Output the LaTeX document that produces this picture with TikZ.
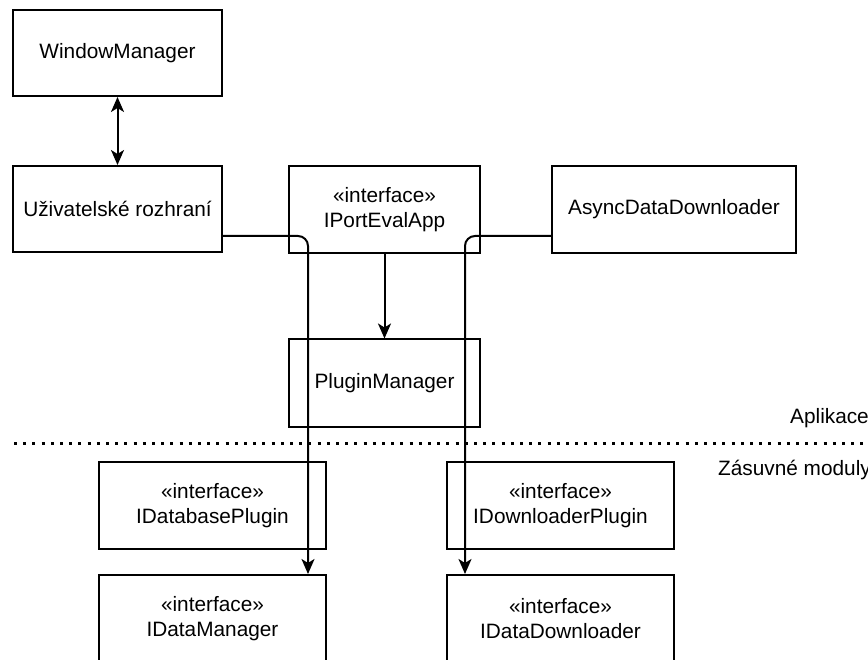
\documentclass[tikz,border=0pt]{standalone}
\usepackage{fontspec}
\setmainfont{Liberation Sans}
\usetikzlibrary{arrows.meta,calc}
\begin{document}
\begin{tikzpicture}[x=1pt,y=-1pt,
  box/.style={draw,line width=2pt,rectangle,inner sep=0pt,align=center,
    font=\fontsize{20.8}{25}\selectfont},
  tip/.tip={Stealth[length=15pt,width=13pt,inset=4pt]},
  conn/.style={line width=2pt,-tip},
  lbl/.style={font=\fontsize{20.8}{25}\selectfont,inner sep=0pt}]
\useasboundingbox (0,0) rectangle (868,660);
\clip (0,0) rectangle (868,660);
\node[box,minimum width=209,minimum height=86] (wm) at (117.5,53) {WindowManager};
\node[box,minimum width=209,minimum height=86] (uziv) at (117.5,209) {Uživatelské rozhraní};
\node[box,minimum width=191,minimum height=87] (iport) at (384.5,209.5) {«interface»\\IPortEvalApp};
\node[box,minimum width=244,minimum height=87] (async) at (674,209.5) {AsyncDataDownloader};
\node[box,minimum width=191,minimum height=87] (plugin) at (384.5,383) {PluginManager};
\node[box,minimum width=227,minimum height=87] (idbp) at (212.5,505.5) {«interface»\\IDatabasePlugin};
\node[box,minimum width=227,minimum height=87] (idm) at (212.5,618.5) {«interface»\\IDataManager};
\node[box,minimum width=227,minimum height=87] (idlp) at (560.5,505.5) {«interface»\\IDownloaderPlugin};
\node[box,minimum width=227,minimum height=87] (idd) at (560.5,618.5) {«interface»\\IDataDownloader};
\node[lbl,anchor=west] (apl) at (790,418) {Aplikace};
\node[lbl,anchor=west] (zas) at (718,470) {Zásuvné moduly};
\coordinate (dl) at (14,443);
\coordinate (dr) at (870,443);
\draw[line width=3pt,dash pattern=on 3pt off 6.2pt] (dl) -- (dr);
\draw[line width=2pt,tip-tip] (wm.south) -- (uziv.north);
\draw[conn] (iport.south) -- (plugin.north);
\draw[conn,rounded corners=10pt] ($(uziv.east)+(0,27)$) -| ($(idm.north)+(95.5,0)$);
\draw[conn,rounded corners=10pt] ($(async.west)+(0,26.5)$) -| ($(idd.north)+(-95.5,0)$);
\end{tikzpicture}
\end{document}
